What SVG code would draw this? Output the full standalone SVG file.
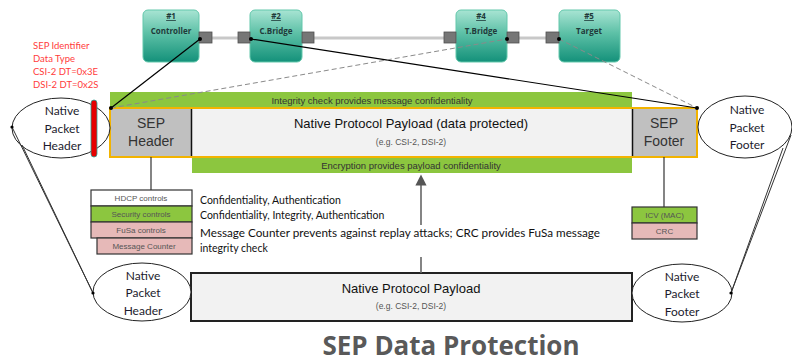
<svg xmlns="http://www.w3.org/2000/svg" width="792" height="362" viewBox="0 0 792 362">
  <defs>
    <linearGradient id="nodeFill" x1="0" y1="0" x2="0" y2="1">
      <stop offset="0" stop-color="#a8e4d3"/>
      <stop offset="0.45" stop-color="#5cc0a6"/>
      <stop offset="1" stop-color="#14917a"/>
    </linearGradient>
    <marker id="arrowUp" viewBox="0 0 10 10" refX="5" refY="5" markerWidth="7" markerHeight="7" orient="auto">
      <path d="M0,0 L10,5 L0,10 z" fill="#555"/>
    </marker>
  </defs>
  <style>
    .node { fill: url(#nodeFill); stroke: #62c7ab; stroke-width: 1; }
    .port { fill: #767676; stroke: #505050; stroke-width: 0.8; }
    .bus { stroke: #c8c8c8; stroke-width: 3; fill: none; }
    .nodeTxt { font-family: "Open Sans", sans-serif; font-size: 8px; font-weight: bold; fill: #1f3a3a; text-anchor: middle; }
    .wire { stroke: #000; stroke-width: 1.2; fill: none; }
    .dash { stroke: #8a8a8a; stroke-width: 1; stroke-dasharray: 5 3; fill: none; }
    .thin { stroke: #333; stroke-width: 1; fill: none; }
    .dot { fill: #000; }
    .ell { fill: #fff; stroke: #222; stroke-width: 1; }
    .ellTxt { font-family: Lato, "Open Sans", sans-serif; font-size: 12px; fill: #1c1c2e; text-anchor: middle; }
    .arial { font-family: "Liberation Sans", Arial, sans-serif; text-anchor: middle; }
    .bar { fill: #8cc63f; }
    .ctl { stroke: #333; stroke-width: 1.2; }
    .ctlTxt { font-family: "Liberation Sans", Arial, sans-serif; font-size: 8px; fill: #555; text-anchor: middle; }
    .desc { font-family: Lato, "Open Sans", sans-serif; font-size: 10.5px; fill: #111; }
    .red { font-family: Lato, "Open Sans", sans-serif; font-size: 9.5px; fill: #ff3b3b; }
  </style>

  <!-- link bus between the ports -->
  <g id="bus">
    <line class="bus" x1="212" y1="38" x2="238" y2="38"/>
    <line class="bus" x1="314" y1="38" x2="444" y2="38"/>
    <line class="bus" x1="519" y1="38" x2="546" y2="38"/>
  </g>

  <!-- devices on the link -->
  <g id="n1">
    <rect class="node" x="143" y="10" width="56" height="52" rx="5"/>
    <rect class="port" x="199" y="32" width="13" height="11"/>
    <text class="nodeTxt" x="171" y="19" text-decoration="underline">#1</text>
    <text class="nodeTxt" x="171" y="34">Controller</text>
  </g>
  <g id="n2">
    <rect class="node" x="250" y="10" width="52" height="52" rx="5"/>
    <rect class="port" x="238" y="32" width="12" height="11"/>
    <rect class="port" x="302" y="32" width="12" height="11"/>
    <text class="nodeTxt" x="276" y="19" text-decoration="underline">#2</text>
    <text class="nodeTxt" x="276" y="34">C.Bridge</text>
  </g>
  <g id="n4">
    <rect class="node" x="456" y="10" width="51" height="52" rx="5"/>
    <rect class="port" x="444" y="32" width="12" height="11"/>
    <rect class="port" x="507" y="32" width="12" height="11"/>
    <text class="nodeTxt" x="481" y="19" text-decoration="underline">#4</text>
    <text class="nodeTxt" x="481" y="34">T.Bridge</text>
  </g>
  <g id="n5">
    <rect class="node" x="559" y="10" width="61" height="52" rx="5"/>
    <rect class="port" x="546" y="32" width="13" height="11"/>
    <text class="nodeTxt" x="589" y="19" text-decoration="underline">#5</text>
    <text class="nodeTxt" x="589" y="34">Target</text>
  </g>

  <!-- SEP identifier note -->
  <g id="sepId">
    <text class="red" x="33" y="49">SEP Identifier</text>
    <text class="red" x="33" y="62">Data Type</text>
    <text class="red" x="33" y="75">CSI-2 DT=0x3E</text>
    <text class="red" x="33" y="88">DSI-2 DT=0x2S</text>
  </g>

  <!-- integrity band -->
  <g id="integrity">
    <rect class="bar" x="110" y="92" width="522" height="16"/>
    <text class="arial" x="372" y="103.5" font-size="9.5" fill="#333">Integrity check provides message confidentiality</text>
  </g>

  <!-- protected packet -->
  <g id="sepPacket">
    <rect class="bar" x="192" y="156" width="440" height="17"/>
    <text class="arial" x="411" y="168.5" font-size="9.5" fill="#333">Encryption provides payload confidentiality</text>
    <rect x="110" y="108" width="587" height="49" fill="#f2f2f2" stroke="#f2b300" stroke-width="2"/>
    <rect x="111" y="109" width="80" height="47" fill="#c0c0c0"/>
    <rect x="632" y="109" width="64" height="47" fill="#c0c0c0"/>
    <line x1="191.5" y1="109" x2="191.5" y2="156" stroke="#111" stroke-width="1.5"/>
    <line x1="632.5" y1="109" x2="632.5" y2="156" stroke="#111" stroke-width="1.5"/>
    <text class="arial" x="151" y="128" font-size="14" fill="#333">SEP</text>
    <text class="arial" x="151" y="146" font-size="14" fill="#333">Header</text>
    <text class="arial" x="664" y="128" font-size="14" fill="#333">SEP</text>
    <text class="arial" x="664" y="146" font-size="14" fill="#333">Footer</text>
    <text class="arial" x="411" y="128" font-size="13" fill="#111">Native Protocol Payload (data protected)</text>
    <text class="arial" x="411" y="145" font-size="8.5" fill="#555">(e.g. CSI-2, DSI-2)</text>
  </g>

  <!-- native packet ends -->
  <g id="hdrTop">
    <ellipse class="ell" cx="61" cy="128" rx="49" ry="30"/>
    <text class="ellTxt" x="62" y="115">Native</text>
    <text class="ellTxt" x="62" y="133">Packet</text>
    <text class="ellTxt" x="62" y="150">Header</text>
  </g>
  <g id="ftrTop">
    <ellipse class="ell" cx="745" cy="127" rx="47" ry="31"/>
    <text class="ellTxt" x="747" y="114">Native</text>
    <text class="ellTxt" x="747" y="132">Packet</text>
    <text class="ellTxt" x="747" y="149">Footer</text>
  </g>

  <!-- SEP marker on the native header -->
  <g id="sepMarker">
    <rect x="91" y="100" width="6" height="57" rx="3" fill="#e60000" stroke="#2aa59a" stroke-width="0.8"/>
  </g>

  <!-- header controls -->
  <g id="hdrControls">
    <rect class="ctl" x="91" y="190" width="101" height="16" fill="#fff"/>
    <rect class="ctl" x="91" y="206" width="101" height="16" fill="#8cc63f"/>
    <rect class="ctl" x="91" y="222" width="101" height="16" fill="#e6b9b8"/>
    <rect class="ctl" x="97" y="238" width="95" height="16" fill="#e6b9b8"/>
    <text class="ctlTxt" x="141" y="201">HDCP controls</text>
    <text class="ctlTxt" x="141" y="217" fill="#3d5a1a">Security controls</text>
    <text class="ctlTxt" x="141" y="233">FuSa controls</text>
    <text class="ctlTxt" x="144" y="249" font-size="7">Message Counter</text>
  </g>

  <g id="descriptions">
    <text class="desc" x="200" y="204">Confidentiality, Authentication</text>
    <text class="desc" x="200" y="219">Confidentiality, Integrity, Authentication</text>
    <text class="desc" x="200" y="237" textLength="400" lengthAdjust="spacingAndGlyphs">Message Counter prevents against replay attacks; CRC provides FuSa message</text>
    <text class="desc" x="200" y="252">integrity check</text>
  </g>

  <!-- footer controls -->
  <g id="ftrControls">
    <rect class="ctl" x="632" y="207" width="65" height="16" fill="#8cc63f"/>
    <rect class="ctl" x="632" y="223" width="65" height="16" fill="#e6b9b8"/>
    <text class="ctlTxt" x="664.5" y="218" font-size="7.5">ICV (MAC)</text>
    <text class="ctlTxt" x="664.5" y="234" font-size="7.5">CRC</text>
  </g>

  <!-- plain packet -->
  <g id="nativePacket">
    <rect x="191" y="273" width="441" height="48" fill="#f2f2f2" stroke="#222" stroke-width="2"/>
    <text class="arial" x="411" y="293" font-size="13" fill="#111">Native Protocol Payload</text>
    <text class="arial" x="411" y="309" font-size="8.5" fill="#555">(e.g. CSI-2, DSI-2)</text>
  </g>
  <g id="hdrBottom">
    <ellipse class="ell" cx="142" cy="292" rx="49" ry="29"/>
    <text class="ellTxt" x="143" y="280">Native</text>
    <text class="ellTxt" x="143" y="297">Packet</text>
    <text class="ellTxt" x="143" y="315">Header</text>
  </g>
  <g id="ftrBottom">
    <ellipse class="ell" cx="682" cy="293" rx="50" ry="29"/>
    <text class="ellTxt" x="682" y="281">Native</text>
    <text class="ellTxt" x="682" y="298">Packet</text>
    <text class="ellTxt" x="682" y="316">Footer</text>
  </g>

  <!-- connectors -->
  <g id="connectors">
    <line class="wire" x1="200" y1="39" x2="111" y2="108"/>
    <line class="wire" x1="251" y1="39" x2="697" y2="108"/>
    <line class="dash" x1="111" y1="108" x2="507" y2="39"/>
    <line class="dash" x1="559" y1="39" x2="697" y2="108"/>
    <circle class="dot" cx="200" cy="39" r="2"/>
    <circle class="dot" cx="251" cy="39" r="2"/>
    <circle class="dot" cx="507" cy="39" r="2"/>
    <circle class="dot" cx="559" cy="39" r="2"/>
    <circle class="dot" cx="111" cy="108" r="2"/>
    <circle class="dot" cx="697" cy="108" r="2"/>

    <line class="thin" x1="12" y1="127" x2="93" y2="293"/>
    <line class="thin" x1="22" y1="145" x2="93" y2="293"/>
    <line class="thin" x1="791" y1="135" x2="731" y2="293"/>
    <line class="thin" x1="783" y1="148" x2="731" y2="293"/>
    <circle class="dot" cx="12" cy="127" r="1.6"/>
    <circle class="dot" cx="93" cy="293" r="1.6"/>
    <circle class="dot" cx="731" cy="293" r="1.6"/>

    <line x1="151" y1="157" x2="151" y2="190" stroke="#333" stroke-width="1.2"/>
    <line x1="664" y1="157" x2="664" y2="207" stroke="#333" stroke-width="1.2"/>

    <line x1="421" y1="273" x2="421" y2="257" stroke="#666" stroke-width="1.6"/>
    <line x1="421" y1="225" x2="421" y2="180" stroke="#666" stroke-width="1.6" marker-end="url(#arrowUp)"/>
  </g>

  <text x="451" y="355" font-family="'Open Sans', sans-serif" font-weight="bold" font-size="26" fill="#595959" text-anchor="middle" textLength="257" lengthAdjust="spacingAndGlyphs">SEP Data Protection</text>
</svg>
